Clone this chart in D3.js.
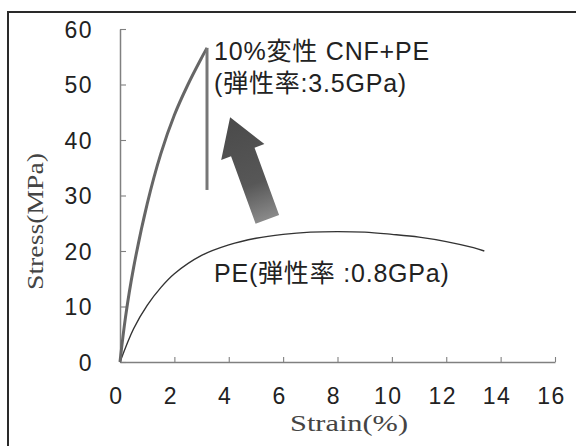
<!DOCTYPE html>
<html>
<head>
<meta charset="utf-8">
<script src="https://cdn.jsdelivr.net/npm/d3@7"></script>
<style>
  html, body { margin: 0; padding: 0; background: #fff; }
  svg { display: block; }
</style>
</head>
<body>
<svg id="chart" width="576" height="446"></svg>
<script>
// Stress–strain curves (strain %, stress MPa)
const cnfStrain = [0, 0.2, 0.5, 1.0, 1.5, 2.0, 2.5, 3.0, 3.2];
const cnfStress = [0, 8, 17, 28.5, 37.5, 44.5, 50, 54.8, 56.6];
const cnfBreakStress = 31;   // stress reached after the drop at break

const peStrain = [0, 0.5, 1.0, 1.5, 2.0, 3.0, 4.0, 5.0, 6.0, 7.0, 8.0, 9.0, 10.0, 11.0, 12.0, 13.0, 13.4];
const peStress = [0, 6.0, 10.2, 13.4, 15.9, 19.2, 21.1, 22.3, 23.0, 23.4, 23.5, 23.4, 23.0, 22.5, 21.7, 20.6, 20.0];

const xTicks = [0, 2, 4, 6, 8, 10, 12, 14, 16];
const yTicks = [0, 10, 20, 30, 40, 50, 60];

const cnfLabel = ["10%変性 CNF+PE", "(弾性率:3.5GPa)"];
const peLabel = "PE(弾性率 :0.8GPa)";
const xTitle = "Strain(%)";
const yTitle = "Stress(MPa)";

// arrow annotation: tip and tail in data units
const arrowTip = [4.05, 44.1];
const arrowTail = [5.42, 25.7];

const svg = d3.select("#chart");
const x = d3.scaleLinear().domain([0, 16]).range([120, 555]);
const y = d3.scaleLinear().domain([0, 60]).range([362, 29]);

const sans = "'Liberation Sans', Arial, 'Noto Sans CJK JP', sans-serif";
const serif = "'Liberation Serif', 'Times New Roman', serif";

// outer frame
svg.append("path")
  .attr("d", "M8,446 V12 H576")
  .attr("fill", "none").attr("stroke", "#2a2a2a").attr("stroke-width", 2);

// axes
const axisColor = "#808080";
const xAxis = svg.append("g").attr("transform", `translate(0,${y(0)})`)
  .call(d3.axisBottom(x).tickValues(xTicks).tickSize(-5).tickSizeOuter(0).tickFormat(""));
const yAxis = svg.append("g").attr("transform", `translate(${x(0)},0)`)
  .call(d3.axisLeft(y).tickValues(yTicks).tickSize(-6).tickSizeOuter(0).tickFormat(""));
[xAxis, yAxis].forEach(g => {
  g.select(".domain").attr("stroke", axisColor).attr("stroke-width", 1.5);
  g.selectAll(".tick line").attr("stroke", axisColor).attr("stroke-width", 1.1);
});

// tick labels
svg.append("g").selectAll("text").data(xTicks).join("text")
  .attr("x", d => x(d) - 3.5).attr("y", 404)
  .attr("text-anchor", "middle")
  .attr("font-family", sans).attr("font-size", 23).attr("letter-spacing", 1.5)
  .attr("fill", "#222").text(d => d);
svg.append("g").selectAll("text").data(yTicks).join("text")
  .attr("x", 93).attr("y", d => y(d) + 8.5)
  .attr("text-anchor", "end")
  .attr("font-family", sans).attr("font-size", 23).attr("letter-spacing", 1.5)
  .attr("fill", "#222").text(d => d);

// axis titles
svg.append("text")
  .attr("x", 290).attr("y", 431)
  .attr("font-family", serif).attr("font-size", 23).attr("font-weight", "normal")
  .attr("textLength", 118).attr("lengthAdjust", "spacingAndGlyphs")
  .attr("fill", "#444").text(xTitle);
svg.append("text")
  .attr("transform", "translate(43,290) rotate(-90)")
  .attr("font-family", serif).attr("font-size", 23).attr("font-weight", "normal")
  .attr("textLength", 137).attr("lengthAdjust", "spacingAndGlyphs")
  .attr("fill", "#444").text(yTitle);

// curves
const cnf = cnfStrain.map((s, i) => [s, cnfStress[i]]);
const pe = peStrain.map((s, i) => [s, peStress[i]]);
const smooth = d3.line().x(d => x(d[0])).y(d => y(d[1])).curve(d3.curveCatmullRom.alpha(0.5));

svg.append("path").attr("d", smooth(pe))
  .attr("fill", "none").attr("stroke", "#333").attr("stroke-width", 1.4);
svg.append("path").attr("d", smooth(cnf))
  .attr("fill", "none").attr("stroke", "#666").attr("stroke-width", 3);
const last = cnf[cnf.length - 1];
svg.append("line")
  .attr("x1", x(last[0])).attr("y1", y(last[1]))
  .attr("x2", x(last[0])).attr("y2", y(cnfBreakStress))
  .attr("stroke", "#777").attr("stroke-width", 3);

// labels
const lbl = svg.append("text")
  .attr("font-family", sans).attr("font-size", 25).attr("letter-spacing", 0.8).attr("fill", "#222");
lbl.append("tspan").attr("x", 214).attr("y", 60).text(cnfLabel[0]);
lbl.append("tspan").attr("x", 214).attr("y", 92).text(cnfLabel[1]);
svg.append("text")
  .attr("x", 214).attr("y", 282)
  .attr("font-family", sans).attr("font-size", 25).attr("letter-spacing", 0.8).attr("fill", "#222")
  .text(peLabel);

// arrow
const tip = [x(arrowTip[0]), y(arrowTip[1])];
const tail = [x(arrowTail[0]), y(arrowTail[1])];
const dx = tip[0] - tail[0], dy = tip[1] - tail[1];
const len = Math.hypot(dx, dy);
const ux = dx / len, uy = dy / len;      // unit vector towards tip
const px = -uy, py = ux;                 // perpendicular
const headLen = 37, headW = 23, shaftW = 12.5;
const base = [tip[0] - ux * headLen, tip[1] - uy * headLen];
const pt = (p, w) => [p[0] + px * w, p[1] + py * w];
const arrowPts = [
  pt(tail, -shaftW), pt(base, -shaftW), pt(base, -headW), tip,
  pt(base, headW), pt(base, shaftW), pt(tail, shaftW)
];
const grad = svg.append("defs").append("linearGradient")
  .attr("id", "arrowFill").attr("gradientUnits", "userSpaceOnUse")
  .attr("x1", tip[0]).attr("y1", tip[1]).attr("x2", tail[0]).attr("y2", tail[1]);
grad.append("stop").attr("offset", 0).attr("stop-color", "#4a4a4a");
grad.append("stop").attr("offset", 0.65).attr("stop-color", "#575757");
grad.append("stop").attr("offset", 1).attr("stop-color", "#8a8a8a");
svg.append("polygon")
  .attr("points", arrowPts.map(p => p.join(",")).join(" "))
  .attr("fill", "url(#arrowFill)");
</script>
</body>
</html>
